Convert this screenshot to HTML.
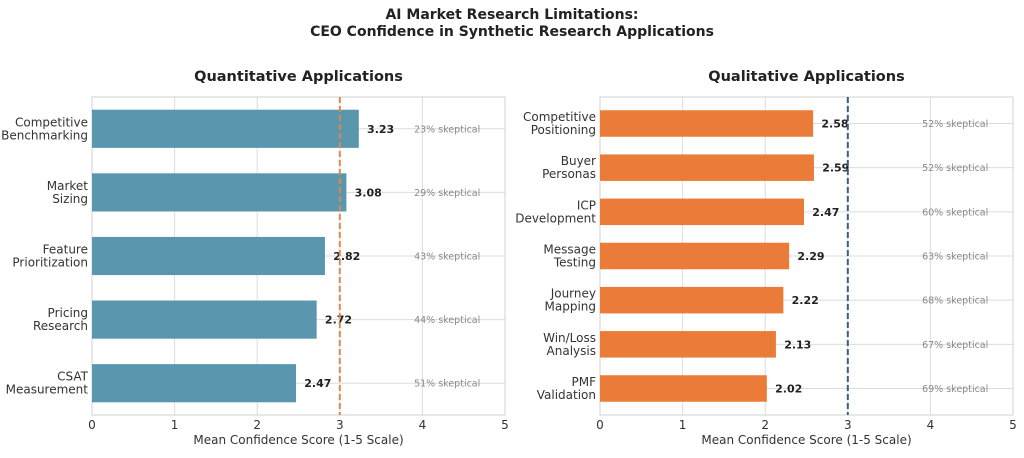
<!DOCTYPE html>
<html><head><meta charset="utf-8"><style>
body{margin:0;background:#fff;width:1024px;height:453px;overflow:hidden}
svg{font-family:"DejaVu Sans","Liberation Sans",sans-serif}
</style></head><body>
<svg id="c" width="1024" height="453">
<text x="512" y="19" text-anchor="middle" font-size="14" font-weight="bold" fill="#222">AI Market Research Limitations:</text>
<text x="512" y="36" text-anchor="middle" font-size="14" font-weight="bold" fill="#222">CEO Confidence in Synthetic Research Applications</text>
</svg>
<script>
const quantCats=["Competitive\nBenchmarking","Market\nSizing","Feature\nPrioritization","Pricing\nResearch","CSAT\nMeasurement"];
const quantVals=[3.23,3.08,2.82,2.72,2.47];
const quantSkep=[23,29,43,44,51];
const qualCats=["Competitive\nPositioning","Buyer\nPersonas","ICP\nDevelopment","Message\nTesting","Journey\nMapping","Win/Loss\nAnalysis","PMF\nValidation"];
const qualVals=[2.58,2.59,2.47,2.29,2.22,2.13,2.02];
const qualSkep=[52,52,60,63,68,67,69];
const xTicks=[0,1,2,3,4,5];
const NS="http://www.w3.org/2000/svg";
const svg=document.getElementById('c');
function mk(tag,attrs,parent,text){const e=document.createElementNS(NS,tag);for(const k in attrs)e.setAttribute(k,attrs[k]);if(text!=null)e.textContent=text;(parent||svg).appendChild(e);return e;}
function panel(x0,x1,y0,y1,pad,title,cats,vals,skep,color,refColor,key){
  const g=mk('g',{});
  
  
  const xs=v=>x0+(v/5)*(x1-x0);
  const n=cats.length, step=(y1-y0)/(n-1+2*pad);
  const yc=i=>y0+step*(i+pad);
  const bh=step*0.6;
  const t=mk('text',{x:(x0+x1)/2,y:y0-16,'text-anchor':'middle','font-size':14.5,'font-weight':'bold',fill:'#222'},g,title);
  
  
  xTicks.forEach(v=>{
    const l=mk('line',{x1:xs(v),x2:xs(v),y1:y0,y2:y1,stroke:'#dcdcdc','stroke-width':1},g);
    
    
    const tl=mk('text',{x:xs(v),y:y1+14,'text-anchor':'middle','font-size':12,fill:'#333'},g,String(v));
    
    
  });
  cats.forEach((c,i)=>{
    const gl=mk('line',{x1:x0,x2:x1,y1:yc(i),y2:yc(i),stroke:'#dcdcdc','stroke-width':1},g);
    
    
  });
  mk('rect',{x:x0,y:y0,width:x1-x0,height:y1-y0,fill:'none',stroke:'#d0d0d0','stroke-width':1},g);
  cats.forEach((c,i)=>{
    const r=mk('rect',{x:x0,y:yc(i)-bh/2,width:xs(vals[i])-x0,height:bh,fill:color},g);
    
    
    const lines=c.split('\n');
    lines.forEach((ln,j)=>{
      const tl=mk('text',{x:x0-4,y:yc(i)+(j-(lines.length-1)/2)*13+4,'text-anchor':'end','font-size':12,fill:'#333'},g,ln);
      
      
    });
    const vl=mk('text',{x:xs(vals[i]+0.1),y:yc(i)+4,'font-size':11,'font-weight':'bold',fill:'#222'},g,vals[i].toFixed(2));
    
    
    const sl=mk('text',{x:xs(4.3),y:yc(i)+3.5,'text-anchor':'middle','font-size':9.5,fill:'#888'},g,skep[i]+'% skeptical');
    
    
  });
  const rl=mk('line',{x1:xs(3),x2:xs(3),y1:y0,y2:y1,stroke:refColor,'stroke-width':2,'stroke-dasharray':'6,3'},g);
  
  
  const xl=mk('text',{x:(x0+x1)/2,y:y1+29,'text-anchor':'middle','font-size':12,fill:'#333'},g,'Mean Confidence Score (1-5 Scale)');
  
  
}
panel(92,505,97,415,0.5,'Quantitative Applications',quantCats,quantVals,quantSkep,'#5a96ae','#d98a52','quantitative');
panel(600,1013,97,415,0.6,'Qualitative Applications',qualCats,qualVals,qualSkep,'#ea7b38','#3e5c7e','qualitative');
</script>
</body></html>
